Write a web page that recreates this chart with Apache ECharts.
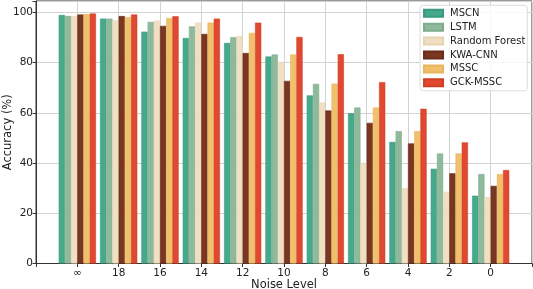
<!DOCTYPE html>
<html><head><meta charset="utf-8">
<script src="https://cdn.jsdelivr.net/npm/echarts@6/dist/echarts.min.js"></script>
<style>html,body{margin:0;padding:0;background:#fff}#c{width:533px;height:289px}</style>
</head><body><div id="c"></div>
<script>
const categories = ['∞','18','16','14','12','10','8','6','4','2','0'];
const mscn = [98.9,97.5,92.3,89.8,87.8,82.4,66.9,59.8,48.4,37.7,27.0];
const lstm = [98.5,97.5,96.2,94.4,90.1,83.2,71.5,62.1,52.7,43.8,35.6];
const randomForest = [98.5,96.8,96.7,95.9,90.6,80.2,64.1,40.0,30.0,28.5,26.4];
const kwaCnn = [99.1,98.5,94.6,91.4,83.8,72.7,60.9,56.0,47.8,35.9,30.9];
const mssc = [99.3,98.1,97.7,95.9,91.8,83.2,71.6,62.1,52.7,43.8,35.6];
const gckMssc = [99.5,99.1,98.4,97.5,95.9,90.2,83.3,72.2,61.6,48.2,37.2];
const yTicks = [0,20,40,60,80,100];

const names = ['MSCN','LSTM','Random Forest','KWA-CNN','MSSC','GCK-MSSC'];
const values = [mscn,lstm,randomForest,kwaCnn,mssc,gckMssc];
const colors = ['#45a98b','#8fb99b','#f0dfc2','#7b3621','#f1c06b','#e0492f'];
const edges = ['#3a9a7c','#80ab8c','#e8d3b0','#6a2c1a','#e8b45c','#d03e26'];
const padCats = [''].concat(categories,['']);

const chart = echarts.init(document.getElementById('c'), null, {renderer:'canvas'});
chart.setOption({
  animation:false,
  grid:{left:36,right:1,top:1,bottom:25.5,containLabel:false,outerBoundsMode:'none',
    show:true,borderColor:'#333',borderWidth:1,backgroundColor:'transparent'},
  legend:{
    right:5.7, top:5.3, orient:'vertical', itemWidth:19, itemHeight:7, itemGap:3.9,
    backgroundColor:'rgba(255,255,255,0.85)', borderColor:'#dddddd', borderWidth:1, borderRadius:3,
    padding:[3,2,3,3],
    textStyle:{fontFamily:'DejaVu Sans',fontSize:10,color:'#222',padding:[0,0,0,2]},
    data:names.map(n=>({name:n,icon:'rect'}))
  },
  xAxis:{
    type:'category', data:padCats, boundaryGap:false,
    name:'Noise Level', nameLocation:'middle', nameGap:16, nameMoveOverlap:false,
    nameTextStyle:{fontFamily:'DejaVu Sans',fontSize:11.5,color:'#222',verticalAlign:'top'},
    axisLine:{lineStyle:{color:'#333'}},
    axisTick:{show:true,length:3.5,lineStyle:{color:'#333'}},
    axisLabel:{fontFamily:'DejaVu Sans',fontSize:10.5,color:'#222',margin:4,interval:0},
    splitLine:{show:true,lineStyle:{color:'#d2d2d2',width:1}}
  },
  yAxis:{
    type:'value', min:0, max:104.5, interval:20,
    name:'Accuracy (%)', nameLocation:'middle', nameGap:22, nameMoveOverlap:false,
    nameTextStyle:{fontFamily:'DejaVu Sans',fontSize:11.5,color:'#222',verticalAlign:'bottom'},
    axisLine:{show:true,lineStyle:{color:'#333'}},
    axisTick:{show:true,length:3.5,lineStyle:{color:'#333'}},
    axisLabel:{fontFamily:'DejaVu Sans',fontSize:10.5,color:'#222',margin:3,
      formatter:v=>yTicks.indexOf(v)>=0?String(v):''},
    splitLine:{show:true,lineStyle:{color:'#d2d2d2',width:1}}
  },
  series:names.map((n,i)=>({
    name:n, type:'bar', barWidth:6.2, barGap:'0%',
    data:[null].concat(values[i],[null]),
    itemStyle:{color:colors[i],borderColor:edges[i],borderWidth:0.6}
  }))
});
</script></body></html>
